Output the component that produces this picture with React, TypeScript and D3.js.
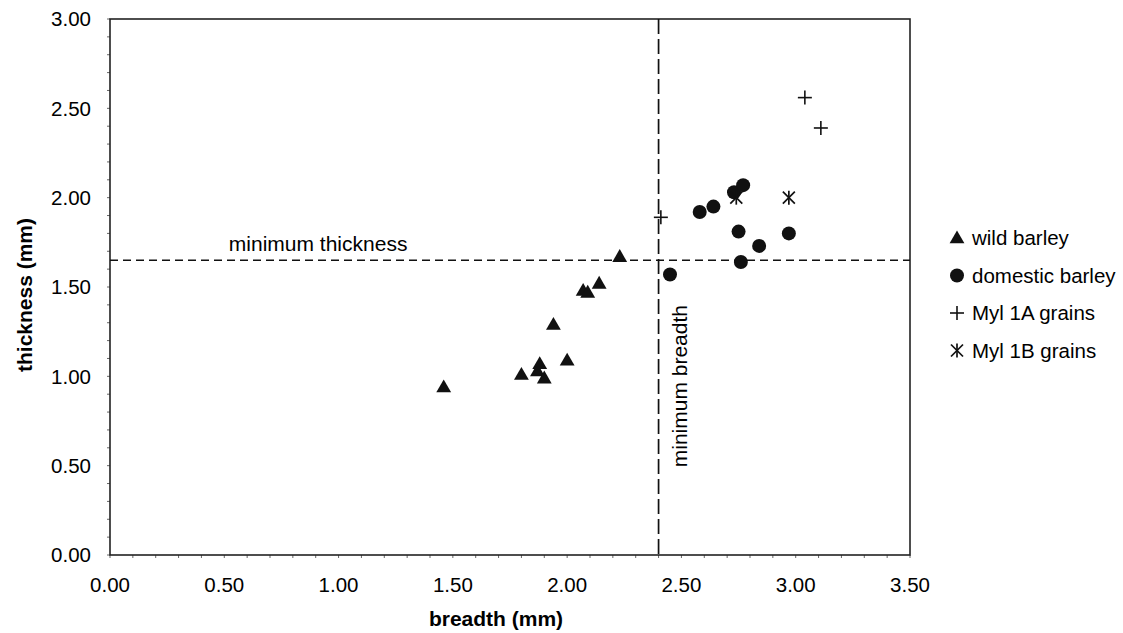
import React from "react";
import * as d3 from "d3";

// wild barley (triangles)
const wildBreadth = [1.46, 1.8, 1.87, 1.88, 1.9, 2.0, 1.94, 2.07, 2.09, 2.14, 2.23];
const wildThickness = [0.94, 1.01, 1.03, 1.07, 0.99, 1.09, 1.29, 1.48, 1.47, 1.52, 1.67];

// domestic barley (circles)
const domesticBreadth = [2.45, 2.58, 2.64, 2.73, 2.77, 2.75, 2.84, 2.76, 2.97];
const domesticThickness = [1.57, 1.92, 1.95, 2.03, 2.07, 1.81, 1.73, 1.64, 1.8];

// Myl 1A grains (plus)
const myl1aBreadth = [2.41, 3.04, 3.11];
const myl1aThickness = [1.89, 2.56, 2.39];

// Myl 1B grains (star)
const myl1bBreadth = [2.74, 2.97];
const myl1bThickness = [2.0, 2.0];

const minBreadth = 2.4;
const minThickness = 1.65;

const xTicks = [0, 0.5, 1, 1.5, 2, 2.5, 3, 3.5];
const yTicks = [0, 0.5, 1, 1.5, 2, 2.5, 3];
const legendLabels = ["wild barley", "domestic barley", "Myl 1A grains", "Myl 1B grains"];

const W = 1123;
const H = 633;
const FONT = "'Liberation Sans', Arial, Helvetica, sans-serif";
const INK = "#111";

const x = d3.scaleLinear().domain([0, 3.5]).range([110, 910]);
const y = d3.scaleLinear().domain([0, 3]).range([555, 19]);

const triPath = d3.symbol(d3.symbolTriangle, 95)();

function Marker({ kind, cx, cy }: { kind: string; cx: number; cy: number }) {
  if (kind === "tri")
    return <path d={triPath!} transform={`translate(${cx},${cy + 1})`} fill={INK} />;
  if (kind === "dot") return <circle cx={cx} cy={cy} r={7} fill={INK} />;
  if (kind === "plus")
    return (
      <g stroke={INK} strokeWidth={1.6}>
        <line x1={cx - 7} x2={cx + 7} y1={cy} y2={cy} />
        <line x1={cx} x2={cx} y1={cy - 7} y2={cy + 7} />
      </g>
    );
  return (
    <g stroke={INK} strokeWidth={1.7}>
      <line x1={cx - 6} x2={cx + 6} y1={cy - 6} y2={cy + 6} />
      <line x1={cx - 6} x2={cx + 6} y1={cy + 6} y2={cy - 6} />
      <line x1={cx} x2={cx} y1={cy - 7} y2={cy + 7} />
    </g>
  );
}

export default function App() {
  const series = [
    { kind: "tri", xs: wildBreadth, ys: wildThickness },
    { kind: "dot", xs: domesticBreadth, ys: domesticThickness },
    { kind: "plus", xs: myl1aBreadth, ys: myl1aThickness },
    { kind: "star", xs: myl1bBreadth, ys: myl1bThickness },
  ];
  const minorX = d3.range(0, 36).map((i) => i / 10);
  const minorY = d3.range(0, 31).map((i) => i / 10);
  const [x0, x1] = x.range();
  const [y0, y1] = y.range();

  return (
    <svg
      width={W}
      height={H}
      style={{ position: "absolute", left: 0, top: 0, background: "#fff" }}
      fontFamily={FONT}
    >
      <rect x={0} y={0} width={W} height={H} fill="#fff" />

      {/* minor ticks */}
      <g stroke="#666" strokeWidth={1}>
        {minorX.map((v) => (
          <line key={"mx" + v} x1={x(v)} x2={x(v)} y1={y0} y2={y0 + 3} />
        ))}
        {minorY.map((v) => (
          <line key={"my" + v} x1={x0 - 3} x2={x0} y1={y(v)} y2={y(v)} />
        ))}
      </g>

      {/* plot frame */}
      <rect
        x={x0}
        y={y1}
        width={x1 - x0}
        height={y0 - y1}
        fill="none"
        stroke="#222"
        strokeWidth={1.6}
      />

      {/* tick labels */}
      <g fontSize={20.5} fill="#000">
        {xTicks.map((v) => (
          <text key={"xt" + v} x={x(v)} y={592} textAnchor="middle">
            {v.toFixed(2)}
          </text>
        ))}
        {yTicks.map((v) => (
          <text key={"yt" + v} x={91} y={y(v)} dy="0.35em" textAnchor="end">
            {v.toFixed(2)}
          </text>
        ))}
      </g>

      {/* threshold lines */}
      <line
        x1={x0}
        x2={x1}
        y1={y(minThickness)}
        y2={y(minThickness)}
        stroke={INK}
        strokeWidth={1.5}
        strokeDasharray="8,5"
      />
      <line
        x1={x(minBreadth)}
        x2={x(minBreadth)}
        y1={y1}
        y2={y0}
        stroke={INK}
        strokeWidth={1.7}
        strokeDasharray="15,5"
      />
      <text x={x(0.52)} y={y(minThickness) - 9} fontSize={21} fill="#000">
        minimum thickness
      </text>
      <text
        transform={`translate(${x(minBreadth) + 28},305) rotate(-90)`}
        textAnchor="end"
        fontSize={21}
        fill="#000"
      >
        minimum breadth
      </text>

      {/* data */}
      {series.map((s) =>
        s.xs.map((v, i) => (
          <Marker key={s.kind + i} kind={s.kind} cx={x(v)} cy={y(s.ys[i])} />
        ))
      )}

      {/* axis titles */}
      <text x={496} y={626} textAnchor="middle" fontSize={21} fontWeight="bold">
        breadth (mm)
      </text>
      <text
        transform="translate(32,295) rotate(-90)"
        textAnchor="middle"
        fontSize={21}
        fontWeight="bold"
      >
        thickness (mm)
      </text>

      {/* legend */}
      <g fontSize={20.5} fill="#000">
        {legendLabels.map((label, i) => {
          const ly = 238 + i * 37.5;
          return (
            <g key={label}>
              <Marker kind={series[i].kind} cx={957} cy={ly} />
              <text x={972} y={ly} dy="0.35em">
                {label}
              </text>
            </g>
          );
        })}
      </g>
    </svg>
  );
}
